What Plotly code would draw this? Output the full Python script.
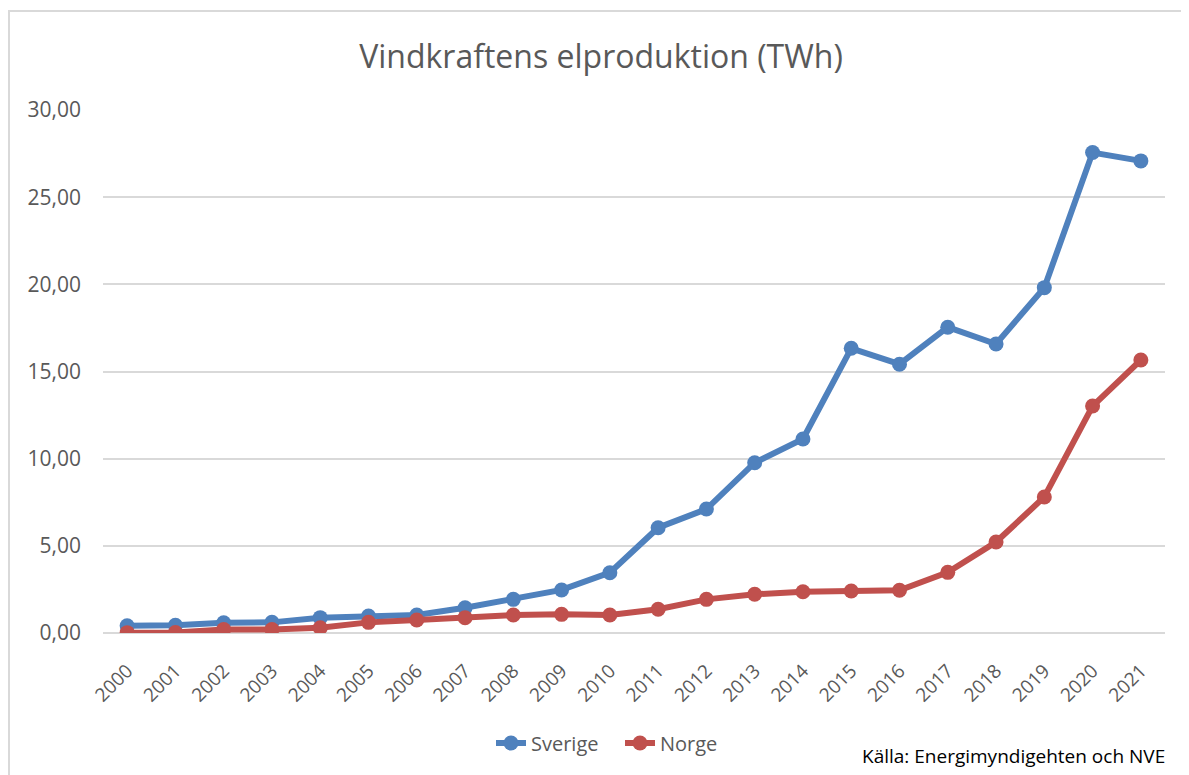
import plotly.graph_objects as go

years = [str(y) for y in range(2000, 2022)]

sverige = [0.42, 0.44, 0.59, 0.61, 0.88, 0.97, 1.03, 1.45, 1.93, 2.47, 3.46,
           6.04, 7.11, 9.77, 11.13, 16.33, 15.42, 17.54, 16.58, 19.81, 27.56, 27.08]
norge = [0.02, 0.03, 0.2, 0.2, 0.3, 0.61, 0.75, 0.88, 1.03, 1.07, 1.03,
         1.36, 1.93, 2.22, 2.37, 2.41, 2.45, 3.48, 5.22, 7.8, 13.02, 15.66]

title_text = "Vindkraftens elproduktion (TWh)"
source_text = "Källa: Energimyndigehten och NVE"

blue = "#4F81BD"
red = "#C0504D"
grey = "#595959"

# page body adds an 8px margin, so everything is placed in screen pixels minus 8
OFF = 8
W, H = 1189 - OFF, 775 - OFF
left, right, top, bottom = 103, 1165, 110, 633   # plot area in screen pixels

fig = go.Figure()
fig.add_trace(go.Scatter(x=years, y=sverige, name="Sverige", mode="lines+markers",
                         line=dict(color=blue, width=6), marker=dict(size=15, color=blue)))
fig.add_trace(go.Scatter(x=years, y=norge, name="Norge", mode="lines+markers",
                         line=dict(color=red, width=6), marker=dict(size=15, color=red)))

def px_x(p):
    return (p - left) / (right - left)

def px_y(p):
    return (bottom - p) / (bottom - top)

# chart border (only top and left edges show in the picture)
fig.add_shape(type="rect", xref="paper", yref="paper",
              x0=px_x(9), x1=px_x(1220), y0=px_y(800), y1=px_y(11),
              line=dict(color="#D9D9D9", width=2), layer="below")

fig.add_annotation(text=source_text, xref="paper", yref="paper",
                   x=px_x(1167), y=px_y(756), xanchor="right", yanchor="middle",
                   showarrow=False, font=dict(size=19, color="#000000"))

fig.update_layout(
    width=W, height=H,
    margin=dict(l=left - OFF, r=W - (right - OFF), t=top - OFF, b=H - (bottom - OFF)),
    paper_bgcolor="white", plot_bgcolor="white",
    separators=",.",
    font=dict(family="Open Sans, Noto Sans, sans-serif", color=grey),
    title=dict(text=title_text, xref="paper", x=px_x(601), xanchor="center",
               y=1 - (57 - OFF) / H, yanchor="middle", font=dict(size=32, color=grey)),
    showlegend=True,
    legend=dict(orientation="h", x=px_x(620), xanchor="center",
                y=px_y(743), yanchor="middle", font=dict(size=20, color=grey),
                entrywidth=84, entrywidthmode="pixels"),
    xaxis=dict(type="category", tickangle=-45, tickfont=dict(size=19, color=grey),
               showgrid=False, showline=False, ticks="", range=[-0.5, 21.5],
               ticklabelstandoff=22, automargin=False),
    yaxis=dict(range=[0, 30], dtick=5, tickformat=".2f", tickfont=dict(size=21, color=grey),
               showgrid=True, gridcolor="#D9D9D9", gridwidth=2, zeroline=True,
               zerolinecolor="#D9D9D9", zerolinewidth=2, ticks="", ticklabelstandoff=21,
               automargin=False),
)

fig.write_html("out.html")
